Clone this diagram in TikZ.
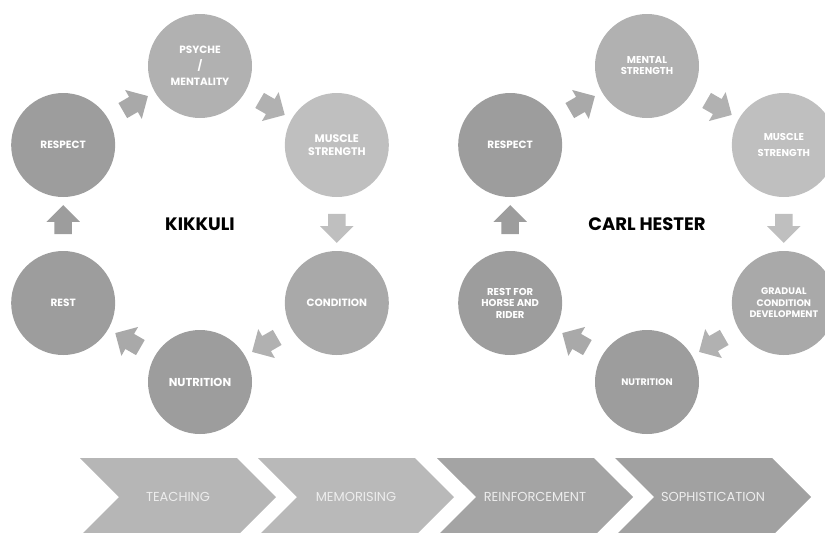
\documentclass[tikz,border=0pt]{standalone}
\usepackage{fontspec}
\setmainfont{Poppins}
\usepackage{xcolor}
\usetikzlibrary{trees, shapes.arrows, shapes.symbols, calc}

\definecolor{gDark}{HTML}{9D9D9D}
\definecolor{gMid}{HTML}{A9A9A9}
\definecolor{gPale}{HTML}{B1B1B1}
\definecolor{gLight}{HTML}{BFBFBF}
\definecolor{stageA}{HTML}{B6B6B6}
\definecolor{stageB}{HTML}{B9B9B9}
\definecolor{stageC}{HTML}{A4A4A4}
\definecolor{stageD}{HTML}{A1A1A1}
\definecolor{stageText}{HTML}{EDEDED}

\begin{document}
\begin{tikzpicture}[x=1pt, y=1pt, grow cyclic, align=flush center, edge from parent/.style={draw=none}]
	\tikzstyle{level 1}=[level distance=158pt, sibling angle=60]
	\tikzstyle{title}=[font=\bfseries\fontsize{18}{21}\selectfont]
	\tikzstyle{disc}=[circle, minimum size=104pt, inner sep=0pt, text=white, font=\bfseries\fontsize{10.5}{12}\selectfont]
	\tikzstyle{flow}=[single arrow, minimum height=29pt, inner xsep=0pt, inner ysep=8.5pt, single arrow head extend=8pt]
	\tikzstyle{stage}=[signal, signal from=west, signal to=east, signal pointer angle=90, minimum height=78pt, minimum width=196pt, inner sep=0pt, text=stageText, font=\fontsize{13}{15}\selectfont]
	
	\clip (0,0) rectangle (825,-533);
	
	% left cycle
	\node(kikkuli)[title] at (200,-224) {KIKKULI}
	[clockwise from=90]
	child{node(kPsyche)[disc, fill=gPale]{PSYCHE\\[4pt]/\\[4pt]MENTALITY}}
	child{node(kMuscle)[disc, fill=gLight, font=\bfseries\fontsize{11}{12.5}\selectfont]{MUSCLE\\STRENGTH}}
	child{node(kCondition)[disc, fill=gMid]{CONDITION}}
	child{node(kNutrition)[disc, fill=gDark, font=\bfseries\fontsize{11.5}{13}\selectfont]{NUTRITION}}
	child{node(kRest)[disc, fill=gDark]{REST}}
	child{node(kRespect)[disc, fill=gDark]{RESPECT}}
	;
	
	\node(kArrowA)[flow, rotate=30, fill=gMid] at ($(kRespect)!.5!(kPsyche)$) {};
	\node(kArrowB)[flow, rotate=-30, fill=gPale] at ($(kPsyche)!.5!(kMuscle)$) {};
	\node(kArrowC)[flow, rotate=-90, fill=gLight] at ($(kMuscle)!.5!(kCondition)$) {};
	\node(kArrowD)[flow, rotate=210, fill=gPale] at ($(kCondition)!.5!(kNutrition)$) {};
	\node(kArrowE)[flow, rotate=150, fill=gMid] at ($(kNutrition)!.5!(kRest)$) {};
	\node(kArrowF)[flow, rotate=90, fill=gDark] at ($(kRest)!.5!(kRespect)$) {};
	
	% right cycle
	\node(hester)[title] at (647,-224) {CARL HESTER}
	[clockwise from=90]
	child{node(hMental)[disc, fill=gPale, font=\bfseries\fontsize{10}{11}\selectfont]{MENTAL\\STRENGTH}}
	child{node(hMuscle)[disc, fill=gLight, font=\bfseries\fontsize{10}{12}\selectfont]{MUSCLE\\[4pt]STRENGTH}}
	child{node(hGradual)[disc, fill=gMid, font=\bfseries\fontsize{9.5}{11.5}\selectfont]{GRADUAL\\CONDITION\\DEVELOPMENT}}
	child{node(hNutrition)[disc, fill=gDark, font=\bfseries\fontsize{9.5}{11}\selectfont]{NUTRITION}}
	child{node(hRest)[disc, fill=gDark, font=\bfseries\fontsize{10}{11.5}\selectfont]{REST FOR\\HORSE AND\\RIDER}}
	child{node(hRespect)[disc, fill=gDark]{RESPECT}}
	;
	
	\node(hArrowA)[flow, rotate=30, fill=gMid] at ($(hRespect)!.5!(hMental)$) {};
	\node(hArrowB)[flow, rotate=-30, fill=gPale] at ($(hMental)!.5!(hMuscle)$) {};
	\node(hArrowC)[flow, rotate=-90, fill=gLight] at ($(hMuscle)!.5!(hGradual)$) {};
	\node(hArrowD)[flow, rotate=210, fill=gPale] at ($(hGradual)!.5!(hNutrition)$) {};
	\node(hArrowE)[flow, rotate=150, fill=gMid] at ($(hNutrition)!.5!(hRest)$) {};
	\node(hArrowF)[flow, rotate=90, fill=gDark] at ($(hRest)!.5!(hRespect)$) {};
	
	% stages
	\node(teaching)[stage, fill=stageA] at (178,-497) {TEACHING};
	\node(memorising)[stage, fill=stageB] at (356,-497) {MEMORISING};
	\node(reinforcement)[stage, fill=stageC] at (535,-497) {REINFORCEMENT};
	\node(sophistication)[stage, fill=stageD] at (713,-497) {SOPHISTICATION};
\end{tikzpicture}
\end{document}
